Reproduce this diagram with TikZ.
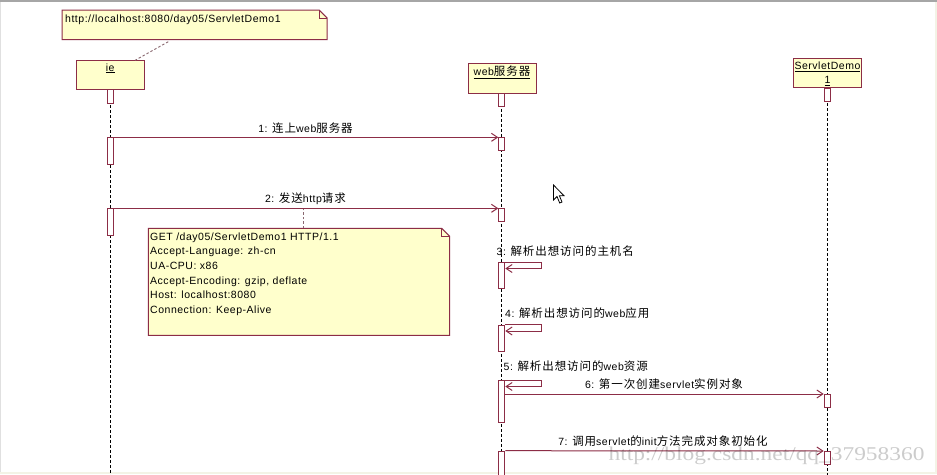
\documentclass[tikz,border=0pt]{standalone}
\usepackage{fontspec}
\setmainfont{Liberation Sans}
\newfontfamily\latfam[LetterSpace=5]{Liberation Sans}
\newfontfamily\cjkfam[LetterSpace=8]{Noto Sans CJK SC}
\newfontfamily\wmfam{Liberation Serif}
\usetikzlibrary{arrows.meta}
\definecolor{yel}{HTML}{FFFFCC}
\definecolor{mar}{HTML}{8C2D46}
\definecolor{linkc}{HTML}{8A6870}
\definecolor{cream}{HTML}{F3F3E6}
\newcommand\tx{\latfam\fontsize{10.5}{14.7}\selectfont}
\newcommand\zh[1]{{\cjkfam\fontsize{11.5}{14}\selectfont #1}}
\begin{document}
\begin{tikzpicture}[x=1pt,y=-1pt,
  objbox/.style={draw=mar, fill=yel, line width=1pt, inner sep=0pt},
  actbox/.style={draw=mar, fill=white, line width=1pt, inner sep=0pt, minimum width=6pt, anchor=north},
  lifeline/.style={draw=black, line width=0.9pt, dash pattern=on 3pt off 2pt},
  msg/.style={draw=mar, line width=1pt, -{Straight Barb[length=6pt,width=8pt]}},
  notelink/.style={draw=linkc, line width=0.9pt, dash pattern=on 2.5pt off 2pt},
  lbl/.style={font=\tx, inner sep=0pt, anchor=base},
  notepath/.style={draw=mar, fill=yel, line width=1pt},
  notearea/.style={inner sep=0pt, anchor=north west}]
\useasboundingbox (0,0) rectangle (937,474);
\clip (0,0) rectangle (937,474);
% window background and edges
\fill[white] (0,0) rectangle (937,474);
\fill[black!35] (0,0) rectangle (937,2.3);
\fill[black!12] (0,2) rectangle (1.3,474);
\fill[cream] (934.5,2) rectangle (937,474);
\fill[cream] (0,471.5) rectangle (937,474);

% objects
\node[objbox, minimum width=68pt, minimum height=28.5pt] (ie) at (110.2,75) {};
\node[lbl] (ieT) at (110.2,71) {\underline{ie}};
\node[objbox, minimum width=68pt, minimum height=30pt] (web) at (502,78.3) {};
\node[lbl] (webT) at (502,75.5) {\underline{web\zh{服务器}}};
\node[objbox, minimum width=68.4pt, minimum height=28.7pt] (sd) at (827.5,73.3) {};
\node[lbl] (sdT1) at (827.5,69.5) {\underline{ServletDemo}};
\node[lbl] (sdT2) at (827.5,83.3) {\underline{1}};

% lifelines
\coordinate (ieEnd) at (110,480);
\coordinate (webEnd) at (501.8,480);
\coordinate (sdEnd) at (827.2,480);
\draw[lifeline] (ie.south -| ieEnd) -- (ieEnd);
\draw[lifeline] (web.south -| webEnd) -- (webEnd);
\draw[lifeline] (sd.south -| sdEnd) -- (sdEnd);

% activations
\node[actbox, minimum height=13.4pt] (ieA0) at (110,89.3) {};
\node[actbox, minimum height=26.7pt] (ieA1) at (110,137.3) {};
\node[actbox, minimum height=26.7pt] (ieA2) at (110,208.3) {};
\node[actbox, minimum height=12.7pt] (webA0) at (501.8,93.3) {};
\node[actbox, minimum height=12.7pt] (webA1) at (501.8,137.3) {};
\node[actbox, minimum height=12.7pt] (webA2) at (501.8,208.3) {};
\node[actbox, minimum height=26pt] (webA3) at (501.8,262) {};
\node[actbox, minimum height=26.5pt] (webA4) at (501.8,324.5) {};
\node[actbox, minimum height=41.5pt] (webA5) at (501.8,380) {};
\node[actbox, minimum height=30pt] (webA6) at (501.8,450.7) {};
\node[actbox, minimum height=13.5pt] (sdA0) at (827.2,87.7) {};
\node[actbox, minimum height=13.3pt] (sdA1) at (827.2,394) {};
\node[actbox, minimum height=13pt] (sdA2) at (827.2,451) {};

% messages
\draw[msg] (ieA1.north east) -- (webA1.north west);
\node[lbl] (m1) at (305.5,132) {1: \zh{连上}web\zh{服务器}};
\draw[msg] (ieA2.north east) -- (webA2.north west);
\node[lbl] (m2) at (305.5,202) {2: \zh{发送}http\zh{请求}};
\draw[msg] (webA3.north east) -- ++(36,0) -- ++(0,6.5) -- ++(-36,0);
\node[lbl, anchor=base west] (m3) at (496.5,255.5) {3: \zh{解析出想访问的主机名}};
\draw[msg] (webA4.north east) -- ++(36,0) -- ++(0,6.5) -- ++(-36,0);
\node[lbl, anchor=base west] (m4) at (505,317) {4: \zh{解析出想访问的}web\zh{应用}};
\draw[msg] (webA5.north east) -- ++(36,0) -- ++(0,6.5) -- ++(-36,0);
\node[lbl, anchor=base west] (m5) at (503.5,370) {5: \zh{解析出想访问的}web\zh{资源}};
\draw[msg] (webA5.east |- sdA1.north) -- (sdA1.north west);
\node[lbl] (m6) at (664,388) {6: \zh{第一次创建}servlet\zh{实例对象}};
\draw[msg] (webA6.north east) -- (sdA2.north west);
\node[lbl] (m7) at (663,445.5) {7: \zh{调用}servlet\zh{的}init\zh{方法完成对象初始化}};

% note 1
\node[notearea, minimum width=264.7pt, minimum height=29.3pt] (note1) at (62,10) {};
\draw[notepath] (note1.north west) -- ([xshift=-8pt]note1.north east) -- ([yshift=-8pt]note1.north east) -- (note1.south east) -- (note1.south west) -- cycle;
\draw[draw=mar, line width=0.8pt] ([xshift=-8pt]note1.north east) -- ([xshift=-8pt,yshift=-8pt]note1.north east) -- ([yshift=-8pt]note1.north east);
\node[lbl, anchor=base west] (n1t) at (65,22) {http://localhost:8080/day05/ServletDemo1};
\draw[notelink] ([xshift=106.3pt,yshift=-2pt]note1.south west) -- ([xshift=25pt]ie.north);

% note 2
\node[notearea, minimum width=301pt, minimum height=106.7pt] (note2) at (148.3,228.3) {};
\draw[notepath] (note2.north west) -- ([xshift=-8pt]note2.north east) -- ([yshift=-8pt]note2.north east) -- (note2.south east) -- (note2.south west) -- cycle;
\draw[draw=mar, line width=0.8pt] ([xshift=-8pt]note2.north east) -- ([xshift=-8pt,yshift=-8pt]note2.north east) -- ([yshift=-8pt]note2.north east);
\node[font=\tx, inner sep=0pt, anchor=north west, align=left] (n2t) at (150,232.2)
  {GET /day05/ServletDemo1 HTTP/1.1\\Accept-Language: zh-cn\\UA-CPU: x86\\Accept-Encoding: gzip, deflate\\Host: localhost:8080\\Connection: Keep-Alive};
\coordinate (m2pt) at (303.3,208.8);
\draw[notelink] ([xshift=155pt]note2.north west) -- (m2pt);

% mouse cursor
\draw[fill=white, draw=black, line width=0.8pt] (553.5,185) -- ++(0,15) -- ++(3.5,-3.5) -- ++(2.7,6.5) -- ++(2.3,-1) -- ++(-2.6,-6.2) -- ++(4.6,0) -- cycle;

% watermark
\node[font=\wmfam\fontsize{19.5}{20}\selectfont, text=black, opacity=0.2, inner sep=0pt, anchor=base] (wm) at (766.5,460) {\scalebox{1.2}[1]{http://blog.csdn.net/qq\_37958360}};
\end{tikzpicture}
\end{document}
